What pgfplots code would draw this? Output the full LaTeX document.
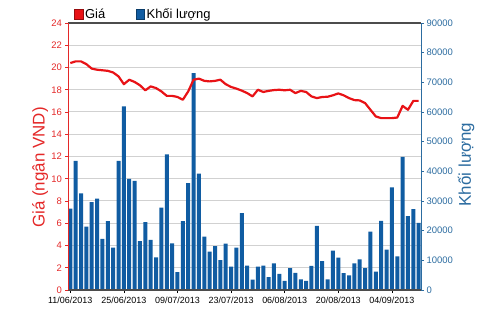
\documentclass[border=0pt]{standalone}
\usepackage{pgfplots}
\pgfplotsset{compat=1.18}
\usepackage{pgfplotstable}
\usepackage{fontspec}
\setmainfont{Liberation Sans}
\definecolor{barblue}{RGB}{16,92,162}
\definecolor{axblue}{RGB}{44,108,160}
\definecolor{linered}{RGB}{232,18,22}
\definecolor{tickred}{RGB}{228,40,40}

\pgfplotstableread{
i vol price
1 27400 20.4
2 43500 20.55
3 32600 20.55
4 21400 20.3
5 29600 19.9
6 30800 19.8
7 17250 19.75
8 23250 19.7
9 14250 19.55
10 43500 19.2
11 61900 18.5
12 37500 18.9
13 36750 18.7
14 16500 18.4
15 22900 17.95
16 16900 18.3
17 11000 18.15
18 27750 17.85
19 45750 17.45
20 15750 17.45
21 6000 17.35
22 23250 17.1
23 36000 17.85
24 73100 18.9
25 39200 19.0
26 18000 18.8
27 12900 18.75
28 14800 18.8
29 10100 18.9
30 15600 18.5
31 7900 18.25
32 14250 18.1
33 25900 17.92
34 8250 17.7
35 3500 17.4
36 7900 18.0
37 8200 17.8
38 4300 17.9
39 9000 17.97
40 5400 18.0
41 3100 17.95
42 7400 18.0
43 5800 17.7
44 3600 17.9
45 3100 17.8
46 8100 17.4
47 21600 17.25
48 9700 17.35
49 3600 17.37
50 13300 17.5
51 10900 17.67
52 5700 17.5
53 4900 17.25
54 9000 17.07
55 10300 17.04
56 7400 16.8
57 19700 16.2
58 6200 15.6
59 23300 15.45
60 13600 15.45
61 34600 15.45
62 11300 15.5
63 44900 16.55
64 24900 16.2
65 27300 17.0
66 22600 17.0
}\datatable

\pgfplotsset{
  common/.style={
    scale only axis, width=352.7bp, height=267bp,
    at={(0,0)}, anchor=south west,
    xmin=0.63, xmax=66.43,
    /pgf/number format/assume math mode=true,
  }
}

\begin{document}
\begin{tikzpicture}
% grid
\begin{axis}[common, name=ax,
  ymin=0, ymax=24, ytick={2,4,...,22}, xtick=\empty,
  ymajorgrids, grid style={black!18, line width=1bp},
  yticklabels={}, major tick length=0pt, axis line style={draw=none}]
\end{axis}
% bars, right axis
\begin{axis}[common,
  ymin=0, ymax=90000,
  axis y line*=right, hide x axis,
  y axis line style={axblue, line width=0.9bp},
  ytick={0,10000,...,90000}, scaled y ticks=false,
  /pgf/number format/set thousands separator={},
  yticklabel style={axblue, font=\fontsize{9.5}{10}\selectfont, xshift=-1bp},
  tick style={axblue, line width=0.6bp}, tick align=outside, major tick length=3bp,
  ylabel={Khối lượng},
  ylabel style={at={(axis description cs:1.128,0.47)}, anchor=center, rotate=0,
    axblue, font=\fontsize{17}{18}\selectfont},
]
\addplot[ybar, bar width=4bp, fill=barblue, draw=none] table[x=i, y=vol] {\datatable};
\end{axis}
% price line, left axis, x axis
\begin{axis}[common,
  ymin=0, ymax=24,
  axis y line*=left, axis x line*=box,
  y axis line style={tickred, line width=0.9bp},
  x axis line style={black!70, line width=1.3bp},
  ytick={0,2,...,24},
  yticklabel style={tickred, font=\fontsize{9.5}{10}\selectfont},
  ytick style={tickred, line width=0.6bp},
  xtick={1,11,21,31,41,51,61}, xtick pos=bottom,
  xticklabels={11/06/2013,25/06/2013,09/07/2013,23/07/2013,06/08/2013,20/08/2013,04/09/2013},
  xticklabel style={black, font=\fontsize{9}{10}\selectfont},
  xtick style={black, line width=0.6bp},
  tick align=outside, major tick length=3bp,
  ylabel={Giá (ngân VND)},
  ylabel style={at={(axis description cs:-0.080,0.459)}, anchor=center,
    tickred, font=\fontsize{17}{18}\selectfont},
  legend style={at={(axis description cs:0.012,1.0)}, anchor=south west,
    draw=none, fill=none, inner sep=1bp, font=\fontsize{13}{14}\selectfont,
    /tikz/every even column/.append style={column sep=29bp}},
  legend columns=2,
]
\addlegendimage{legend image code/.code={\draw[fill=linered, draw=linered!65!black] (0bp,-5bp) rectangle (9bp,5bp);}}
\addlegendentry{Giá}
\addlegendimage{legend image code/.code={\draw[fill=barblue, draw=barblue!65!black] (0bp,-5bp) rectangle (8bp,5bp);}}
\addlegendentry{Khối lượng}
\addplot[linered, line width=2.2bp, line join=round, forget plot] table[x=i, y=price] {\datatable};
\end{axis}
\pgfresetboundingbox
\path[use as bounding box] (ax.south west) ++(-68.3bp,-22bp) rectangle ++(500bp,312bp);
\end{tikzpicture}
\end{document}
